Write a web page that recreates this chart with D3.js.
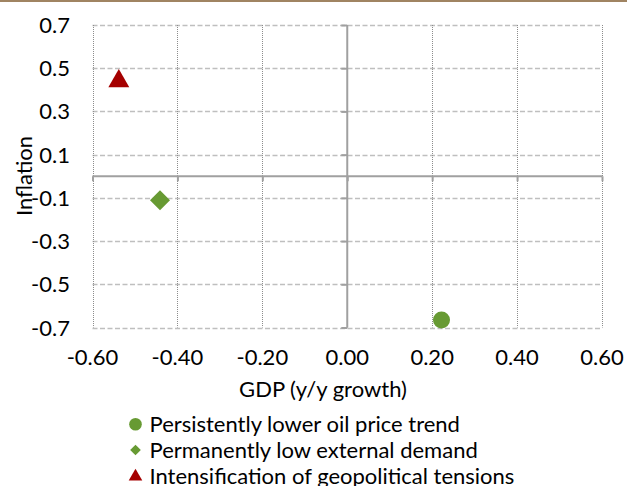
<!DOCTYPE html>
<html><head><meta charset="utf-8">
<script src="https://cdn.jsdelivr.net/npm/d3@7"></script>
<style>body{margin:0;background:#fff}svg{display:block}text{font-family:Lato,"Open Sans",sans-serif;fill:#000}</style>
</head><body>
<svg id="c" width="627" height="486"></svg>
<script>
const seriesNames = ["Persistently lower oil price trend","Permanently low external demand","Intensification of geopolitical tensions"];
const gdpValues = [0.222, -0.441, -0.538];
const inflationValues = [-0.665, -0.111, 0.44];
const markerShapes = ["circle","diamond","triangle"];
const markerColors = ["#679a33","#679a33","#a50000"];
const xTicks = [-0.6,-0.4,-0.2,0,0.2,0.4,0.6];
const yTicks = [0.7,0.5,0.3,0.1,-0.1,-0.3,-0.5,-0.7];

const FS = 22;
const svg = d3.select("#c");
svg.append("rect").attr("x",0).attr("y",0).attr("width",627).attr("height",2).attr("fill","#a08462");

const x = d3.scaleLinear().domain([-0.6,0.6]).range([92.5,602]);
const y = d3.scaleLinear().domain([-0.7,0.7]).range([327.5,25]);
const fmt = (p)=> (d)=> d.toFixed(p).replace("\u2212","-");

const g = svg.append("g");
g.selectAll(".hg").data(yTicks).join("line")
  .attr("x1",x(-0.6)).attr("x2",x(0.6)).attr("y1",d=>Math.round(y(d))+0.5).attr("y2",d=>Math.round(y(d))+0.5)
  .attr("stroke","#bfbfbf").attr("stroke-width",1.3).attr("stroke-dasharray","5,2.5");
g.selectAll(".vg").data(xTicks).join("line")
  .attr("y1",y(0.7)).attr("y2",y(-0.7)).attr("x1",d=>Math.round(x(d))+0.5).attr("x2",d=>Math.round(x(d))+0.5)
  .attr("stroke","#8c8c8c").attr("stroke-width",1).attr("stroke-dasharray","1,1");

const xAxisG = svg.append("g").attr("transform",`translate(0,${y(0)})`)
  .call(d3.axisBottom(x).tickValues(xTicks).tickSize(5).tickFormat(""));
xAxisG.select(".domain").attr("stroke","#a0a0a0").attr("stroke-width",2).attr("d",`M${x(-0.6)},0H${x(0.6)}`);
xAxisG.selectAll(".tick line").attr("stroke","#a0a0a0").attr("stroke-width",2);

const yAxisG = svg.append("g").attr("transform",`translate(${x(0)},0)`)
  .call(d3.axisLeft(y).tickValues(yTicks).tickSize(6).tickFormat(""));
yAxisG.select(".domain").attr("stroke","#a0a0a0").attr("stroke-width",2).attr("d",`M0,${y(0.7)}V${y(-0.7)}`);
yAxisG.selectAll(".tick line").attr("stroke","#a0a0a0").attr("stroke-width",2);

svg.append("g").selectAll("text").data(xTicks).join("text")
  .attr("x",d=>x(d)).attr("y",365).attr("text-anchor","middle").attr("font-size",FS)
  .text(fmt(2));
svg.append("g").selectAll("text").data(yTicks).join("text")
  .attr("x",70).attr("y",d=>y(d)+8).attr("text-anchor","end").attr("font-size",FS)
  .text(fmt(1));

svg.append("text").attr("x",323).attr("y",397).attr("text-anchor","middle").attr("font-size",FS).text("GDP (y/y growth)");
svg.append("text").attr("transform","translate(32,176) rotate(-90)").attr("text-anchor","middle").attr("font-size",FS).text("Inflation");

function sym(shape,size){
  const t = shape==="circle"?d3.symbolCircle:shape==="diamond"?d3.symbolSquare:d3.symbolTriangle;
  return d3.symbol().type(t).size(size)();
}
const sizes = {circle:227, diamond:200, triangle:190};
const pts = seriesNames.map((n,i)=>({n,gx:gdpValues[i],inf:inflationValues[i],s:markerShapes[i],c:markerColors[i]}));
svg.append("g").selectAll("path").data(pts).join("path")
  .attr("transform",d=>`translate(${x(d.gx)},${y(d.inf)})`+(d.s==="diamond"?" rotate(45)":""))
  .attr("d",d=>sym(d.s,sizes[d.s])).attr("fill",d=>d.c);

const legSizes = {circle:125, diamond:57, triangle:80};
const legY = [424.3,450,476.5];
const lg = svg.append("g").selectAll("g").data(pts).join("g").attr("transform",(d,i)=>`translate(135.5,${legY[i]})`);
lg.append("path").attr("transform",d=>d.s==="diamond"?"rotate(45)":"")
  .attr("d",d=>sym(d.s,legSizes[d.s])).attr("fill",d=>d.c);
lg.append("text").attr("x",14).attr("y",7.5).attr("font-size",FS).text(d=>d.n);
</script>
</body></html>
